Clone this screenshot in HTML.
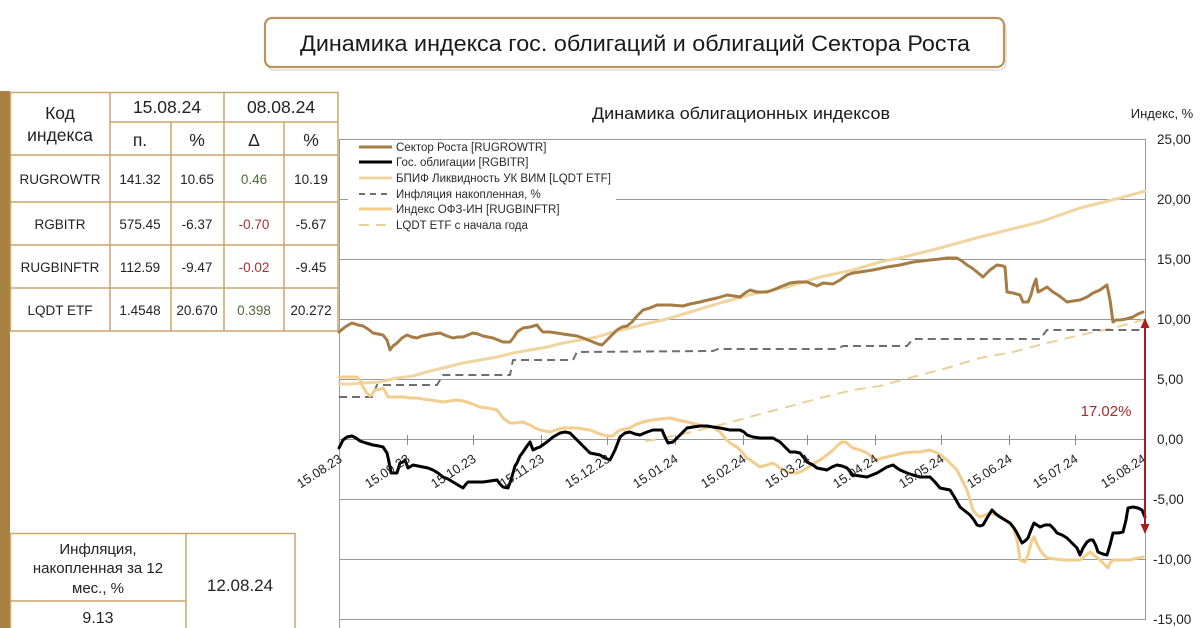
<!DOCTYPE html>
<html><head><meta charset="utf-8"><style>
html,body{margin:0;padding:0;background:#fff;width:1200px;height:628px;overflow:hidden}
svg{display:block}
text{font-family:"Liberation Sans","DejaVu Sans",sans-serif}
</style></head><body>
<svg width="1200" height="628" viewBox="0 0 1200 628" xmlns="http://www.w3.org/2000/svg">
<rect width="1200" height="628" fill="#fff"/>
<!-- Title box -->
<rect x="266" y="19" width="739" height="49" rx="7" fill="#fff" stroke="#7a6a55" stroke-width="1" opacity="0.35" transform="translate(1,2)"/>
<rect x="265" y="18" width="739" height="49" rx="7" fill="#fff" stroke="#b8955d" stroke-width="2.2"/>
<text x="635" y="51" text-anchor="middle" font-size="22.5" fill="#1a1a1a" textLength="670" lengthAdjust="spacingAndGlyphs">Динамика индекса гос. облигаций и облигаций Сектора Роста</text>

<!-- left bar -->
<rect x="0" y="91" width="10" height="537" fill="#a8803f"/>

<!-- Top table -->
<g stroke="#c9a66b" stroke-width="1.5" fill="none">
<rect x="10.5" y="92.5" width="327.5" height="238.5"/>
<line x1="110" y1="122" x2="338" y2="122"/>
<line x1="10" y1="155" x2="338" y2="155"/>
<line x1="10" y1="202" x2="338" y2="202"/>
<line x1="10" y1="245" x2="338" y2="245"/>
<line x1="10" y1="288" x2="338" y2="288"/>
<line x1="110" y1="92" x2="110" y2="331"/>
<line x1="224" y1="92" x2="224" y2="331"/>
<line x1="171" y1="122" x2="171" y2="331"/>
<line x1="284" y1="122" x2="284" y2="331"/>
</g>
<g font-size="17.5" fill="#222" text-anchor="middle">
<text x="60" y="119">Код</text>
<text x="60" y="141">индекса</text>
<text x="167" y="113">15.08.24</text>
<text x="281" y="113">08.08.24</text>
<text x="140" y="146">п.</text>
<text x="197" y="146">%</text>
<text x="254" y="146">Δ</text>
<text x="311" y="146">%</text>
</g>
<g font-size="13.5" fill="#222" text-anchor="middle">
<text x="60" y="184">RUGROWTR</text>
<text x="140" y="184">141.32</text>
<text x="197" y="184">10.65</text>
<text x="254" y="184" fill="#4f6b3c">0.46</text>
<text x="311" y="184">10.19</text>
<text x="60" y="229">RGBITR</text>
<text x="140" y="229">575.45</text>
<text x="197" y="229">-6.37</text>
<text x="254" y="229" fill="#a83232">-0.70</text>
<text x="311" y="229">-5.67</text>
<text x="60" y="272">RUGBINFTR</text>
<text x="140" y="272">112.59</text>
<text x="197" y="272">-9.47</text>
<text x="254" y="272" fill="#a83232">-0.02</text>
<text x="311" y="272">-9.45</text>
<text x="60" y="315">LQDT ETF</text>
<text x="140" y="315">1.4548</text>
<text x="197" y="315">20.670</text>
<text x="254" y="315" fill="#4f6b3c">0.398</text>
<text x="311" y="315">20.272</text>
</g>

<!-- Bottom table -->
<g stroke="#c9a66b" stroke-width="1.5" fill="none">
<rect x="10.5" y="533.5" width="284.5" height="110"/>
<line x1="186" y1="533" x2="186" y2="640"/>
<line x1="10" y1="601" x2="186" y2="601"/>
</g>
<g font-size="15" fill="#222" text-anchor="middle">
<text x="98" y="554">Инфляция,</text>
<text x="98" y="573">накопленная за 12</text>
<text x="98" y="593">мес., %</text>
<text x="98" y="623" font-size="16">9.13</text>
<text x="240" y="591" font-size="17">12.08.24</text>
</g>

<!-- Chart titles -->
<text x="741" y="119" text-anchor="middle" font-size="17" fill="#1a1a1a" textLength="298" lengthAdjust="spacingAndGlyphs">Динамика облигационных индексов</text>
<text x="1162" y="118" text-anchor="middle" font-size="13" fill="#222">Индекс, %</text>

<!-- Grid -->
<g stroke="#9a9a9a" stroke-width="1">
<line x1="339" y1="139.5" x2="1145" y2="139.5"/>
<line x1="339" y1="199.5" x2="1145" y2="199.5"/>
<line x1="339" y1="259.5" x2="1145" y2="259.5"/>
<line x1="339" y1="319.5" x2="1145" y2="319.5"/>
<line x1="339" y1="379.5" x2="1145" y2="379.5"/>
<line x1="339" y1="439.5" x2="1145" y2="439.5"/>
<line x1="339" y1="499.5" x2="1145" y2="499.5"/>
<line x1="339" y1="559.5" x2="1145" y2="559.5"/>
<line x1="339" y1="619.5" x2="1145" y2="619.5"/>
<line x1="339.5" y1="139" x2="339.5" y2="628"/>
<line x1="1145.5" y1="139" x2="1145.5" y2="620"/>
</g>
<g stroke="#8a8a8a" stroke-width="1">
<line x1="407.5" y1="435" x2="407.5" y2="445"/>
<line x1="473.5" y1="435" x2="473.5" y2="445"/>
<line x1="541.5" y1="435" x2="541.5" y2="445"/>
<line x1="607.5" y1="435" x2="607.5" y2="445"/>
<line x1="675.5" y1="435" x2="675.5" y2="445"/>
<line x1="743.5" y1="435" x2="743.5" y2="445"/>
<line x1="807.5" y1="435" x2="807.5" y2="445"/>
<line x1="875.5" y1="435" x2="875.5" y2="445"/>
<line x1="941.5" y1="435" x2="941.5" y2="445"/>
<line x1="1009.5" y1="435" x2="1009.5" y2="445"/>
<line x1="1075.5" y1="435" x2="1075.5" y2="445"/>
</g>

<!-- Right axis labels -->
<g font-size="13.5" fill="#222">
<text x="1157" y="144">25,00</text>
<text x="1157" y="204">20,00</text>
<text x="1157" y="264">15,00</text>
<text x="1157" y="324">10,00</text>
<text x="1157" y="384">5,00</text>
<text x="1157" y="444">0,00</text>
<text x="1153" y="504">-5,00</text>
<text x="1153" y="564">-10,00</text>
<text x="1153" y="624">-15,00</text>
</g>

<!-- Series -->
<g fill="none" stroke-linejoin="round" stroke-linecap="round">
<polyline stroke="#ebd199" stroke-width="2" stroke-dasharray="11,7" stroke-linecap="butt" points="645,441 653,440 687,433 720,425 753,416 787,407 820,398 853,390 880,386 913,377 947,368 980,358 1013,352 1047,343 1080,335 1113,328 1143,320"/>
<polyline stroke="#6e6e6e" stroke-width="2" stroke-dasharray="8,5" stroke-linecap="butt" points="339,397 372,397 377,385 437,385 443,375 510,375 513,360 573,360 577,352 713,351 718,349 837,349 843,346 907,346 913,339 1040,339 1047,330 1143,330"/>
<polyline stroke="#efd5a0" stroke-width="3" points="339,384 350,384 363,383 380,382 397,378 413,376 430,371 447,367 463,363 480,360 497,357 513,353 530,350 547,347 563,343 580,340 597,337 613,332 630,328 645,324 663,320 687,313 720,303 753,294 787,287 820,277 853,270 880,262 900,258 940,248 980,237 1020,227 1040,222 1080,208 1100,203 1120,198 1145,191"/>
<polyline stroke="#f2cd8e" stroke-width="3" points="339,377 350,377 357,377 360,380 363,387 367,393 370,396 373,393 375,390 380,389 383,388 386,393 388,397 395,397 403,397 410,398 417,398 423,399 430,400 437,401 443,402 450,401 457,400 463,401 470,403 475,405 480,407 488,408 497,410 500,414 503,418 507,421 510,423 516,423 523,422 527,424 530,425 535,428 540,430 545,431 550,432 556,430 563,428 570,428 577,428 583,429 590,430 597,433 603,435 608,436 613,436 617,432 620,430 625,429 630,428 635,425 640,423 647,421 653,420 660,419 670,418 678,420 687,422 695,424 703,426 713,427 717,430 720,432 725,438 730,443 733,445 737,447 742,452 747,458 753,462 760,467 767,465 773,463 780,468 787,472 792,473 797,473 802,471 807,468 813,464 820,460 827,455 833,450 838,445 842,442 845,442 847,443 850,446 853,448 860,450 867,453 872,457 877,460 882,458 887,457 895,455 903,453 913,452 920,452 930,450 937,453 942,456 947,460 952,465 957,470 962,480 967,490 970,500 973,510 977,515 980,517 985,515 990,513 997,515 1003,518 1008,522 1013,527 1015,533 1017,540 1019,552 1020,560 1025,562 1028,555 1030,547 1032,540 1034,537 1037,544 1040,550 1044,555 1047,558 1055,559 1063,560 1072,560 1080,560 1085,556 1090,552 1095,556 1100,560 1104,564 1108,568 1110,563 1113,560 1120,560 1130,560 1137,558 1143,557"/>
<polyline stroke="#a67c45" stroke-width="3" points="339,332 345,327 352,323 358,325 363,326 368,329 373,333 378,334 383,335 387,340 390,350 393,346 397,343 402,338 407,335 412,337 417,338 422,336 427,335 433,334 440,333 447,336 453,338 458,337 463,337 468,335 473,333 478,334 483,336 488,337 493,338 498,340 503,342 510,342 514,337 517,332 523,328 530,327 537,325 540,329 543,332 550,332 557,333 563,334 570,335 577,336 583,338 588,340 593,342 598,344 602,345 607,340 612,335 617,330 622,327 627,326 632,322 637,316 643,310 650,308 657,305 663,305 670,305 683,306 690,304 700,302 708,300 717,298 727,295 734,296 740,297 745,293 750,290 757,292 767,292 773,290 780,287 790,283 798,282 807,282 812,284 817,286 823,283 833,284 840,280 847,275 853,273 860,272 873,270 887,267 900,265 913,262 922,261 930,260 940,259 947,258 957,258 962,261 967,265 972,268 977,272 983,277 987,273 990,270 997,265 1003,266 1005,267 1007,292 1013,293 1020,295 1023,302 1028,302 1031,295 1033,287 1036,279 1038,292 1042,290 1047,287 1053,292 1058,295 1062,298 1067,302 1073,301 1080,300 1087,297 1093,293 1100,290 1107,285 1110,300 1113,322 1116,320 1120,320 1126,319 1133,317 1138,314 1143,312"/>
<polyline stroke="#000" stroke-width="3" points="339,448 343,440 347,437 352,436 356,438 360,441 366,443 373,445 379,446 383,447 387,453 389,462 391,473 397,473 400,463 403,462 405,460 408,468 413,465 418,466 423,467 428,468 433,470 438,473 443,477 448,479 453,482 458,485 463,488 466,484 468,482 473,482 477,482 483,482 490,481 497,480 500,484 503,487 508,488 511,480 513,473 515,466 517,463 520,456 523,452 527,446 530,442 533,450 537,448 540,447 544,444 547,442 553,437 560,433 565,432 570,433 575,438 580,443 585,448 590,453 595,454 600,455 605,458 610,460 615,450 620,437 625,433 630,432 635,434 640,435 647,432 653,430 662,430 665,437 668,443 673,442 677,438 680,435 687,428 693,427 700,426 707,426 713,427 720,428 730,430 740,430 744,432 747,435 753,437 760,438 767,438 773,438 780,442 785,447 790,452 795,452 800,453 804,458 807,462 813,465 817,468 822,469 827,470 832,467 837,465 842,466 847,468 853,475 860,476 867,477 872,475 877,473 882,470 887,467 893,465 897,468 900,470 907,473 913,475 920,477 930,477 935,482 940,488 945,489 950,490 955,498 960,507 965,511 970,515 974,520 977,525 980,526 983,525 987,518 992,510 996,514 1000,517 1005,520 1010,523 1014,528 1017,533 1020,539 1022,543 1025,541 1028,538 1031,530 1034,523 1037,525 1040,527 1045,525 1050,525 1054,529 1057,533 1062,535 1067,538 1072,543 1077,548 1080,555 1083,548 1087,542 1090,540 1093,540 1096,546 1098,552 1103,554 1107,555 1110,545 1113,533 1118,533 1123,532 1126,520 1128,508 1133,507 1138,508 1142,510 1145,517"/>
</g>

<!-- X axis labels -->
<g font-size="13" fill="#222" text-anchor="end">
<text transform="translate(343,461) rotate(-33)">15.08.23</text>
<text transform="translate(411,461) rotate(-33)">15.09.23</text>
<text transform="translate(477,461) rotate(-33)">15.10.23</text>
<text transform="translate(545,461) rotate(-33)">15.11.23</text>
<text transform="translate(611,461) rotate(-33)">15.12.23</text>
<text transform="translate(679,461) rotate(-33)">15.01.24</text>
<text transform="translate(747,461) rotate(-33)">15.02.24</text>
<text transform="translate(811,461) rotate(-33)">15.03.24</text>
<text transform="translate(879,461) rotate(-33)">15.04.24</text>
<text transform="translate(945,461) rotate(-33)">15.05.24</text>
<text transform="translate(1013,461) rotate(-33)">15.06.24</text>
<text transform="translate(1079,461) rotate(-33)">15.07.24</text>
<text transform="translate(1147,461) rotate(-33)">15.08.24</text>
</g>

<!-- Legend -->
<rect x="348" y="141" width="268" height="95" fill="#fff"/>
<g stroke-width="3" fill="none">
<line x1="359" y1="147" x2="392" y2="147" stroke="#a67c45"/>
<line x1="359" y1="162" x2="392" y2="162" stroke="#000"/>
<line x1="359" y1="178" x2="392" y2="178" stroke="#efd5a0"/>
<line x1="359" y1="194" x2="392" y2="194" stroke="#6e6e6e" stroke-width="2" stroke-dasharray="6,5"/>
<line x1="359" y1="209" x2="392" y2="209" stroke="#f2cd8e"/>
<line x1="359" y1="225" x2="392" y2="225" stroke="#ebd199" stroke-width="2" stroke-dasharray="10,7"/>
</g>
<g font-size="11.5" fill="#2a2a2a">
<text x="396" y="151">Сектор Роста [RUGROWTR]</text>
<text x="396" y="166">Гос. облигации [RGBITR]</text>
<text x="396" y="182">БПИФ Ликвидность УК ВИМ [LQDT ETF]</text>
<text x="396" y="198">Инфляция накопленная, %</text>
<text x="396" y="213">Индекс ОФЗ-ИН [RUGBINFTR]</text>
<text x="396" y="229">LQDT ETF с начала года</text>
</g>

<!-- Red arrow -->
<line x1="1145" y1="326" x2="1145" y2="526" stroke="#a81e1e" stroke-width="2"/>
<polygon points="1145,318 1140.5,328 1149.5,328" fill="#a81e1e"/>
<polygon points="1145,534 1140.5,524 1149.5,524" fill="#a81e1e"/>
<text x="1106" y="416" text-anchor="middle" font-size="15" fill="#a82a2a">17.02%</text>
</svg>
</body></html>
